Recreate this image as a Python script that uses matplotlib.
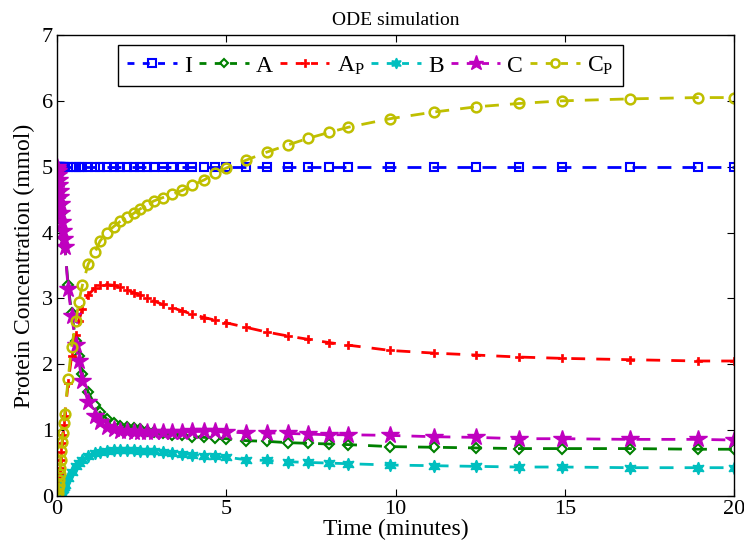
import matplotlib
matplotlib.use("Agg")
import matplotlib.pyplot as plt
from matplotlib.lines import Line2D

# time grid (minutes) shared by all species (ODE solver output)
t = [0, 0.01, 0.02, 0.035, 0.05, 0.065, 0.08, 0.095, 0.11, 0.13, 0.15, 0.17, 0.2, 0.23,
     0.33, 0.43, 0.56, 0.64, 0.75, 0.92, 1.12, 1.27, 1.47, 1.67, 1.87, 2.06, 2.26, 2.46,
     2.66, 2.86, 3.12, 3.4, 3.7, 4.0, 4.35, 4.67, 5.0, 5.59, 6.19, 6.82, 7.41, 8.03, 8.61,
     9.85, 11.13, 12.39, 13.65, 14.93, 16.92, 18.93, 20.0]

I_vals = [5.0] * len(t)

A_vals = [5.0, 4.97, 4.93, 4.87, 4.8, 4.72, 4.63, 4.54, 4.44, 4.3, 4.17, 4.04, 3.92, 3.8,
          3.2, 2.78, 2.36, 2.12, 1.86, 1.58, 1.38, 1.27, 1.17, 1.11, 1.07, 1.05, 1.03, 1.01,
          0.99, 0.97, 0.95, 0.93, 0.92, 0.9, 0.89, 0.88, 0.87, 0.84, 0.83, 0.81, 0.8, 0.79, 0.78,
          0.75, 0.74, 0.73, 0.72, 0.72, 0.72, 0.71, 0.71]

AP_vals = [0, 0.02, 0.05, 0.1, 0.16, 0.24, 0.33, 0.43, 0.54, 0.67, 0.8, 0.93, 1.08, 1.22,
           1.72, 2.12, 2.45, 2.65, 2.84, 3.05, 3.16, 3.2, 3.21, 3.2, 3.17, 3.13, 3.09, 3.05,
           3.0, 2.96, 2.91, 2.86, 2.81, 2.76, 2.71, 2.67, 2.63, 2.56, 2.49, 2.43, 2.38, 2.33, 2.29,
           2.21, 2.17, 2.14, 2.11, 2.09, 2.07, 2.05, 2.05]

B_vals = [0, 0.0, 0.0, 0.01, 0.01, 0.02, 0.03, 0.04, 0.05, 0.07, 0.09, 0.11, 0.14, 0.17,
          0.27, 0.36, 0.45, 0.5, 0.55, 0.61, 0.65, 0.67, 0.69, 0.7, 0.7, 0.7, 0.7, 0.69,
          0.69, 0.68, 0.67, 0.66, 0.64, 0.63, 0.61, 0.6, 0.59, 0.55, 0.54, 0.52, 0.51, 0.5, 0.49,
          0.47, 0.46, 0.45, 0.44, 0.44, 0.43, 0.43, 0.43]

C_vals = [5.0, 4.97, 4.93, 4.87, 4.8, 4.72, 4.63, 4.54, 4.44, 4.3, 4.16, 4.02, 3.9, 3.78,
          3.15, 2.74, 2.3, 2.05, 1.74, 1.42, 1.22, 1.12, 1.05, 1.01, 0.99, 0.98, 0.97, 0.97,
          0.97, 0.97, 0.97, 0.97, 0.97, 0.98, 0.98, 0.98, 0.97, 0.96, 0.96, 0.95, 0.94, 0.93, 0.93,
          0.92, 0.9, 0.89, 0.87, 0.87, 0.86, 0.86, 0.85]

CP_vals = [0, 0.02, 0.05, 0.1, 0.16, 0.24, 0.33, 0.43, 0.55, 0.68, 0.82, 0.96, 1.11, 1.25,
           1.78, 2.26, 2.65, 2.94, 3.2, 3.52, 3.7, 3.87, 4.0, 4.09, 4.17, 4.23, 4.29, 4.36,
           4.42, 4.48, 4.53, 4.58, 4.64, 4.72, 4.8, 4.9, 4.98, 5.1, 5.22, 5.33, 5.43, 5.52, 5.6,
           5.73, 5.83, 5.91, 5.96, 6.0, 6.03, 6.05, 6.05]

labels = ["I", "A", r"A$_{\mathrm{P}}$", "B", "C", r"C$_{\mathrm{P}}$"]
x_ticks = [0, 5, 10, 15, 20]
y_ticks = [0, 1, 2, 3, 4, 5, 6, 7]

plt.rcParams["font.family"] = ["Liberation Serif", "DejaVu Serif"]
plt.rcParams["mathtext.fontset"] = "custom"
plt.rcParams["mathtext.rm"] = "Liberation Serif"
plt.rcParams["mathtext.it"] = "Liberation Serif:italic"

fig = plt.figure(figsize=(7.44, 5.5), dpi=100)
ax = fig.add_axes([57/744, 1 - 496/550, (734-57)/744, (496-35)/550])

series = [
    (I_vals, (0, 0, 1), "s", 6, "none", 1.5),
    (A_vals, (0, 0.5, 0), "D", 5, "none", 1.5),
    (AP_vals, (1, 0, 0), "P", 6, (1, 0, 0), 0.5),
    (B_vals, (0, 0.75, 0.75), (6, 1, 0), 9, (0, 0.75, 0.75), 1.0),
    (C_vals, (0.75, 0, 0.75), "*", 13, (0.75, 0, 0.75), 1.0),
    (CP_vals, (0.75, 0.75, 0), "o", 7, "none", 1.8),
]

handles = []
for vals, col, mk, ms, mfc, mew in series:
    ax.plot(t, vals, linestyle=(0, (5, 4)), color=col, linewidth=2,
            marker=mk, markersize=ms, markerfacecolor=mfc,
            markeredgecolor=col, markeredgewidth=mew)
    handles.append(Line2D([], [], linestyle=(0, (2.5, 3)), color=col, linewidth=2,
                          marker=mk, markersize=ms * 0.85, markerfacecolor=mfc,
                          markeredgecolor=col, markeredgewidth=mew))

ax.set_xlim(0, 20)
ax.set_ylim(0, 7)
ax.set_xticks(x_ticks)
ax.set_yticks(y_ticks)
ax.tick_params(direction="in", top=True, right=True, labelsize=16, length=5,
               width=0.8, pad=3)
for s in ax.spines.values():
    s.set_linewidth(1.0)

ax.set_xlabel("Time (minutes)", fontsize=17, labelpad=0)
ax.set_ylabel("Protein Concentration (mmol)", fontsize=17, labelpad=5)
ax.set_title("ODE simulation", fontsize=14, pad=7)

leg = ax.legend(handles, labels, loc="upper left", bbox_to_anchor=(0.09, 0.978),
                ncol=6, fontsize=17, frameon=True, fancybox=False, edgecolor="black",
                framealpha=1, borderaxespad=0, handlelength=2.1, handletextpad=0.3,
                columnspacing=0.3, borderpad=0.4)
leg.get_frame().set_linewidth(1.0)

fig.savefig("out.png", dpi=100)
